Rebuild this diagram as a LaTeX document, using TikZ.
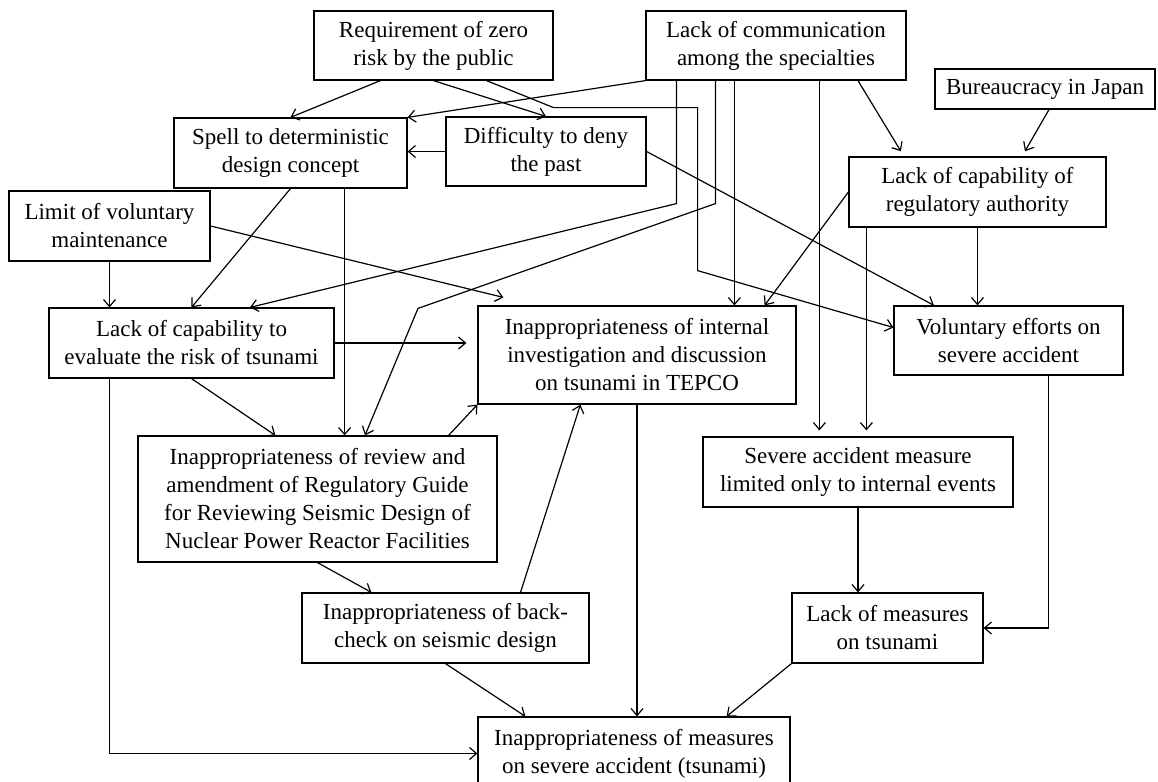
\documentclass[tikz,border=0pt]{standalone}
\usepackage{fontspec}
\setmainfont{Liberation Serif}
\usetikzlibrary{arrows.meta, calc}
\tikzset{
  box/.style={rectangle, draw, line width=0.6pt, align=center, inner sep=2pt,
    font=\fontsize{11.5}{14}\selectfont},
  link/.style={-{Straight Barb[length=3.5pt, width=6pt]}, line width=0.6pt},
  gap/.style={shorten >=3pt},
}
\begin{document}
\begin{tikzpicture}[x=0.5pt, y=-0.5pt]
\useasboundingbox (0,0) rectangle (1158,782);
% causes
\node[box, minimum width=119.5pt, minimum height=34.5pt] (req) at (433.5,45.5) {Requirement of zero\\risk by the public};
\node[box, minimum width=130pt, minimum height=34.5pt] (comm) at (776,45.5) {Lack of communication\\among the specialties};
\node[box, minimum width=110pt, minimum height=20pt] (bureau) at (1045,89) {Bureaucracy in Japan};
\node[box, minimum width=116.5pt, minimum height=35pt] (spell) at (290.5,153) {Spell to deterministic\\design concept};
\node[box, minimum width=100pt, minimum height=34.5pt] (deny) at (546,151.5) {Difficulty to deny\\the past};
\node[box, minimum width=128.5pt, minimum height=35pt] (regcap) at (977.5,192) {Lack of capability of\\regulatory authority};
\node[box, minimum width=100.5pt, minimum height=35pt] (limit) at (109.5,226) {Limit of voluntary\\maintenance};
\node[box, minimum width=142.5pt, minimum height=35pt] (evalcap) at (191.5,343) {Lack of capability to\\evaluate the risk of tsunami};
\node[box, minimum width=159pt, minimum height=49pt] (internal) at (637,355) {Inappropriateness of internal\\investigation and discussion\\on tsunami in TEPCO};
\node[box, minimum width=114.5pt, minimum height=34.5pt] (volun) at (1008.5,340.5) {Voluntary efforts on\\severe accident};
\node[box, minimum width=179.5pt, minimum height=63pt] (review) at (317.5,499) {Inappropriateness of review and\\amendment of Regulatory Guide\\for Reviewing Seismic Design of\\Nuclear Power Reactor Facilities};
\node[box, minimum width=155pt, minimum height=35pt] (internev) at (858,472) {Severe accident measure\\limited only to internal events};
\node[box, minimum width=143.5pt, minimum height=35pt] (backchk) at (445.5,628) {Inappropriateness of back-\\check on seismic design};
\node[box, minimum width=95.5pt, minimum height=35pt] (tsmeas) at (887.5,628) {Lack of measures\\on tsunami};
% result
\node[box, minimum width=156pt, minimum height=36.5pt] (final) at (634,753.5) {Inappropriateness of measures\\on severe accident (tsunami)};

\draw[link] ($(req.south west)+(67,0)$) -- (spell.north);
\draw[link] (req.south) -- (deny.north);
\draw[link] ($(req.south)+(53,0)$) -- ($(req.south east)+(0,27)$) -- ($(req.south east)+(144,27)$) -- ($(req.south east)+(144,190)$) -- ($(volun.west)+(0,-13)$);
\draw[link] (comm.south west) -- (spell.north east);
\draw[link] (deny.west) -- (deny.west -| spell.east);
\draw[link] (deny.east) -- ($(volun.north)+(-74.5,0)$);
\draw[link] ($(comm.south west)+(31,0)$) -- ++(0,123) -- ($(evalcap.north)+(58.5,0)$);
\draw[link] ($(comm.south west)+(70,0)$) -- ++(0,123) -- ($(review.north)+(100.5,-127)$) -- ($(review.north)+(47.5,0)$);
\draw[link] ($(comm.south west)+(89,0)$) coordinate (c1) -- (c1 |- internal.north);
\draw[link, gap] ($(comm.south west)+(174,0)$) coordinate (c2) -- (c2 |- internev.north);
\draw[link, gap] ($(comm.south)+(82,0)$) -- ($(regcap.north)+(-73.5,0)$);
\draw[link, gap] ($(bureau.south)+(4,0)$) -- ($(regcap.north)+(44.5,0)$);
\draw[link] (regcap.west) -- ($(internal.north east)+(-32,0)$);
\draw[link, gap] ($(regcap.south west)+(18,0)$) coordinate (c3) -- (c3 |- internev.north);
\draw[link] (regcap.south) -- (regcap.south |- volun.north);
\draw[link] (spell.south) -- (evalcap.north);
\draw[link] ($(spell.south east)+(-63,0)$) coordinate (c4) -- (c4 |- review.north);
\draw[link] (limit.south) -- (limit.south |- evalcap.north);
\draw[link] (limit.east) -- ($(internal.north west)+(26,-8)$);
\draw[link] (evalcap.east) -- ($(internal.west)+(-11,-12)$);
\draw[link] (evalcap.south) -- ($(review.north west)+(138,0)$);
\draw[link] ($(evalcap.south west)+(61,0)$) coordinate (c5) -- (c5 |- final.west) -- (final.west);
\draw[link] ($(review.north east)+(-49,0)$) -- (internal.south west);
\draw[link] (review.south) -- ($(backchk.north west)+(70,0)$);
\draw[link] ($(backchk.north)+(75,0)$) -- ($(internal.south west)+(103,0)$);
\draw[link] (backchk.south) -- ($(final.north west)+(48,0)$);
\draw[link] (internal.south) -- (internal.south |- final.north);
\draw[link] (tsmeas.south west) -- ($(final.north east)+(-64,0)$);
\draw[link] (internev.south) -- (internev.south |- tsmeas.north);
\draw[link] ($(volun.south)+(40,0)$) coordinate (c6) -- (c6 |- tsmeas.east) -- (tsmeas.east);
\end{tikzpicture}
\end{document}
